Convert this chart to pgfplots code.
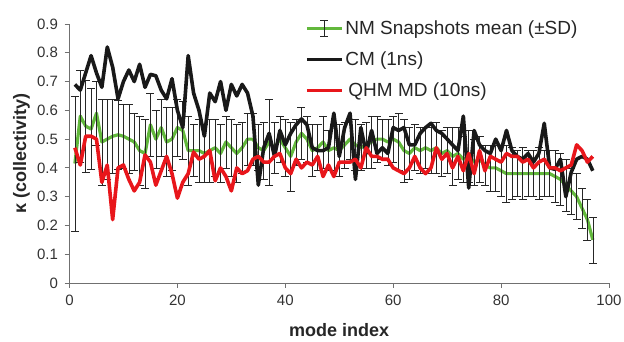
\documentclass[border=0pt]{standalone}
\usepackage{fontspec}
\setmainfont{Liberation Sans}
\usepackage{pgfplots}
\pgfplotsset{compat=1.18}
\usepackage{pgfplotstable}
\usetikzlibrary{calc}
\definecolor{nmgreen}{HTML}{62B83C}
\definecolor{qhmred}{HTML}{E8161B}
\definecolor{axgray}{HTML}{707070}
\definecolor{txt}{HTML}{333333}

\pgfplotstableread{
x g sd c r
1 0.415 0.235 0.69 0.47
2 0.58 0.16 0.67 0.41
3 0.545 0.16 0.73 0.51
4 0.535 0.14 0.79 0.51
5 0.59 0.11 0.73 0.50
6 0.49 0.15 0.68 0.35
7 0.50 0.14 0.82 0.41
8 0.51 0.13 0.75 0.22
9 0.515 0.12 0.64 0.40
10 0.51 0.11 0.70 0.41
11 0.50 0.12 0.74 0.36
12 0.49 0.10 0.70 0.32
13 0.46 0.12 0.76 0.35
14 0.45 0.12 0.68 0.445
15 0.55 0.11 0.725 0.42
16 0.50 0.10 0.72 0.34
17 0.54 0.10 0.67 0.39
18 0.49 0.12 0.64 0.44
19 0.50 0.11 0.71 0.38
20 0.54 0.10 0.60 0.295
21 0.53 0.10 0.54 0.35
22 0.46 0.12 0.79 0.38
23 0.46 0.09 0.66 0.455
24 0.46 0.11 0.60 0.43
25 0.45 0.10 0.51 0.44
26 0.46 0.11 0.66 0.46
27 0.47 0.10 0.63 0.355
28 0.45 0.10 0.70 0.40
29 0.49 0.09 0.60 0.37
30 0.47 0.10 0.69 0.32
31 0.45 0.10 0.65 0.40
32 0.47 0.09 0.69 0.38
33 0.50 0.09 0.66 0.39
34 0.50 0.09 0.58 0.43
35 0.47 0.08 0.34 0.44
36 0.46 0.10 0.47 0.42
37 0.49 0.15 0.52 0.42
38 0.47 0.09 0.44 0.44
39 0.50 0.08 0.53 0.45
40 0.47 0.10 0.48 0.40
41 0.44 0.12 0.52 0.38
42 0.49 0.08 0.55 0.43
43 0.52 0.09 0.57 0.40
44 0.50 0.08 0.55 0.42
45 0.46 0.09 0.47 0.41
46 0.47 0.08 0.46 0.44
47 0.49 0.09 0.46 0.37
48 0.46 0.07 0.47 0.41
49 0.47 0.08 0.59 0.37
50 0.46 0.09 0.44 0.42
51 0.48 0.08 0.54 0.42
52 0.50 0.07 0.59 0.42
53 0.48 0.09 0.36 0.43
54 0.47 0.08 0.54 0.40
55 0.48 0.08 0.45 0.47
56 0.49 0.09 0.53 0.44
57 0.50 0.08 0.45 0.44
58 0.50 0.07 0.47 0.43
59 0.49 0.08 0.45 0.43
60 0.50 0.08 0.54 0.40
61 0.49 0.10 0.53 0.39
62 0.46 0.11 0.54 0.38
63 0.45 0.09 0.48 0.40
64 0.47 0.08 0.48 0.44
65 0.46 0.08 0.52 0.40
66 0.47 0.07 0.54 0.38
67 0.46 0.08 0.555 0.40
68 0.47 0.09 0.53 0.47
69 0.45 0.08 0.52 0.43
70 0.46 0.08 0.50 0.45
71 0.44 0.10 0.48 0.40
72 0.45 0.09 0.46 0.44
73 0.43 0.08 0.58 0.39
74 0.44 0.09 0.33 0.45
75 0.42 0.08 0.53 0.38
76 0.43 0.08 0.48 0.46
77 0.41 0.07 0.46 0.39
78 0.40 0.08 0.45 0.44
79 0.40 0.08 0.50 0.43
80 0.39 0.09 0.46 0.42
81 0.38 0.10 0.53 0.45
82 0.38 0.09 0.46 0.44
83 0.38 0.08 0.44 0.44
84 0.38 0.09 0.43 0.42
85 0.38 0.08 0.45 0.43
86 0.38 0.08 0.42 0.40
87 0.38 0.09 0.45 0.42
88 0.38 0.08 0.555 0.43
89 0.38 0.08 0.40 0.40
90 0.37 0.09 0.395 0.40
91 0.36 0.09 0.43 0.39
92 0.34 0.09 0.30 0.40
93 0.32 0.08 0.385 0.41
94 0.30 0.08 0.43 0.48
95 0.26 0.07 0.44 0.46
96 0.22 0.07 0.43 0.42
97 0.15 0.08 0.39 0.44
}\datatable

\begin{document}
\begin{tikzpicture}
\begin{axis}[
  scale only axis, width=539.5bp, height=259bp,
  xmin=0, xmax=100, ymin=0, ymax=0.9,
  axis x line*=bottom, axis y line*=left,
  axis line style={-, draw=axgray, line width=0.8bp},
  xtick={0,20,40,60,80,100},
  ytick={0,0.1,0.2,0.3,0.4,0.5,0.6,0.7,0.8,0.9},
  yticklabels={0,0.1,0.2,0.3,0.4,0.5,0.6,0.7,0.8,0.9},
  tick align=outside, major tick length=5bp,
  tick style={draw=axgray, line width=0.8bp},
  /pgf/number format/assume math mode=true,
  ticklabel style={font=\fontsize{15bp}{18bp}\selectfont, text=txt},
  xticklabel style={yshift=-4bp},
  yticklabel style={xshift=-3bp},
  xlabel={mode index},
  ylabel={κ (collectivity)},
  label style={font=\fontsize{18bp}{20bp}\selectfont\bfseries, text=black!85},
  xlabel style={at={($(axis description cs:0.5,0)+(0,-47bp)$)}, anchor=center},
  ylabel style={at={($(axis description cs:0,0.5)+(-48bp,0)$)}, anchor=center},
  legend style={at={(0.4365,1.02)}, anchor=north west, draw=none, fill=none,
    font=\fontsize{19bp}{22bp}\selectfont, row sep=13bp, inner sep=0pt,
    nodes={inner sep=1.5bp},
    cells={anchor=west}, text=black!85},
  legend cell align=left,
  line join=round,
]
\addplot[nmgreen, line width=3.2bp, no marks,
  error bars/.cd, y dir=both, y explicit,
  error bar style={black!85, line width=0.6bp},
  error mark options={black!85, rotate=90, mark size=4bp, line width=0.6bp},
  /pgfplots/legend image code/.code={
    \draw[nmgreen, line width=3.2bp] (0bp,0bp) -- (35bp,0bp);
    \draw[black!85, line width=0.8bp] (17.5bp,-8bp) -- (17.5bp,8bp)
      (13.5bp,-8bp) -- (21.5bp,-8bp) (13.5bp,8bp) -- (21.5bp,8bp);}]
  table[x=x, y=g, y error=sd] {\datatable};
\addlegendentry{NM Snapshots mean (±SD)}
\addplot[black!90, line width=3.6bp, no marks,
  legend image code/.code={\draw[black!90, line width=3.6bp] (0bp,0bp) -- (35bp,0bp);}]
  table[x=x, y=c] {\datatable};
\addlegendentry{CM (1ns)}
\addplot[qhmred, line width=3.6bp, no marks,
  legend image code/.code={\draw[qhmred, line width=3.6bp] (0bp,0bp) -- (35bp,0bp);}]
  table[x=x, y=r] {\datatable};
\addlegendentry{\,QHM MD (10ns)}
\end{axis}
\pgfresetboundingbox
\path ($(current axis.south west)+(-69.5bp,-59bp)$) rectangle ($(current axis.north east)+(15bp,24bp)$);
\end{tikzpicture}
\end{document}
